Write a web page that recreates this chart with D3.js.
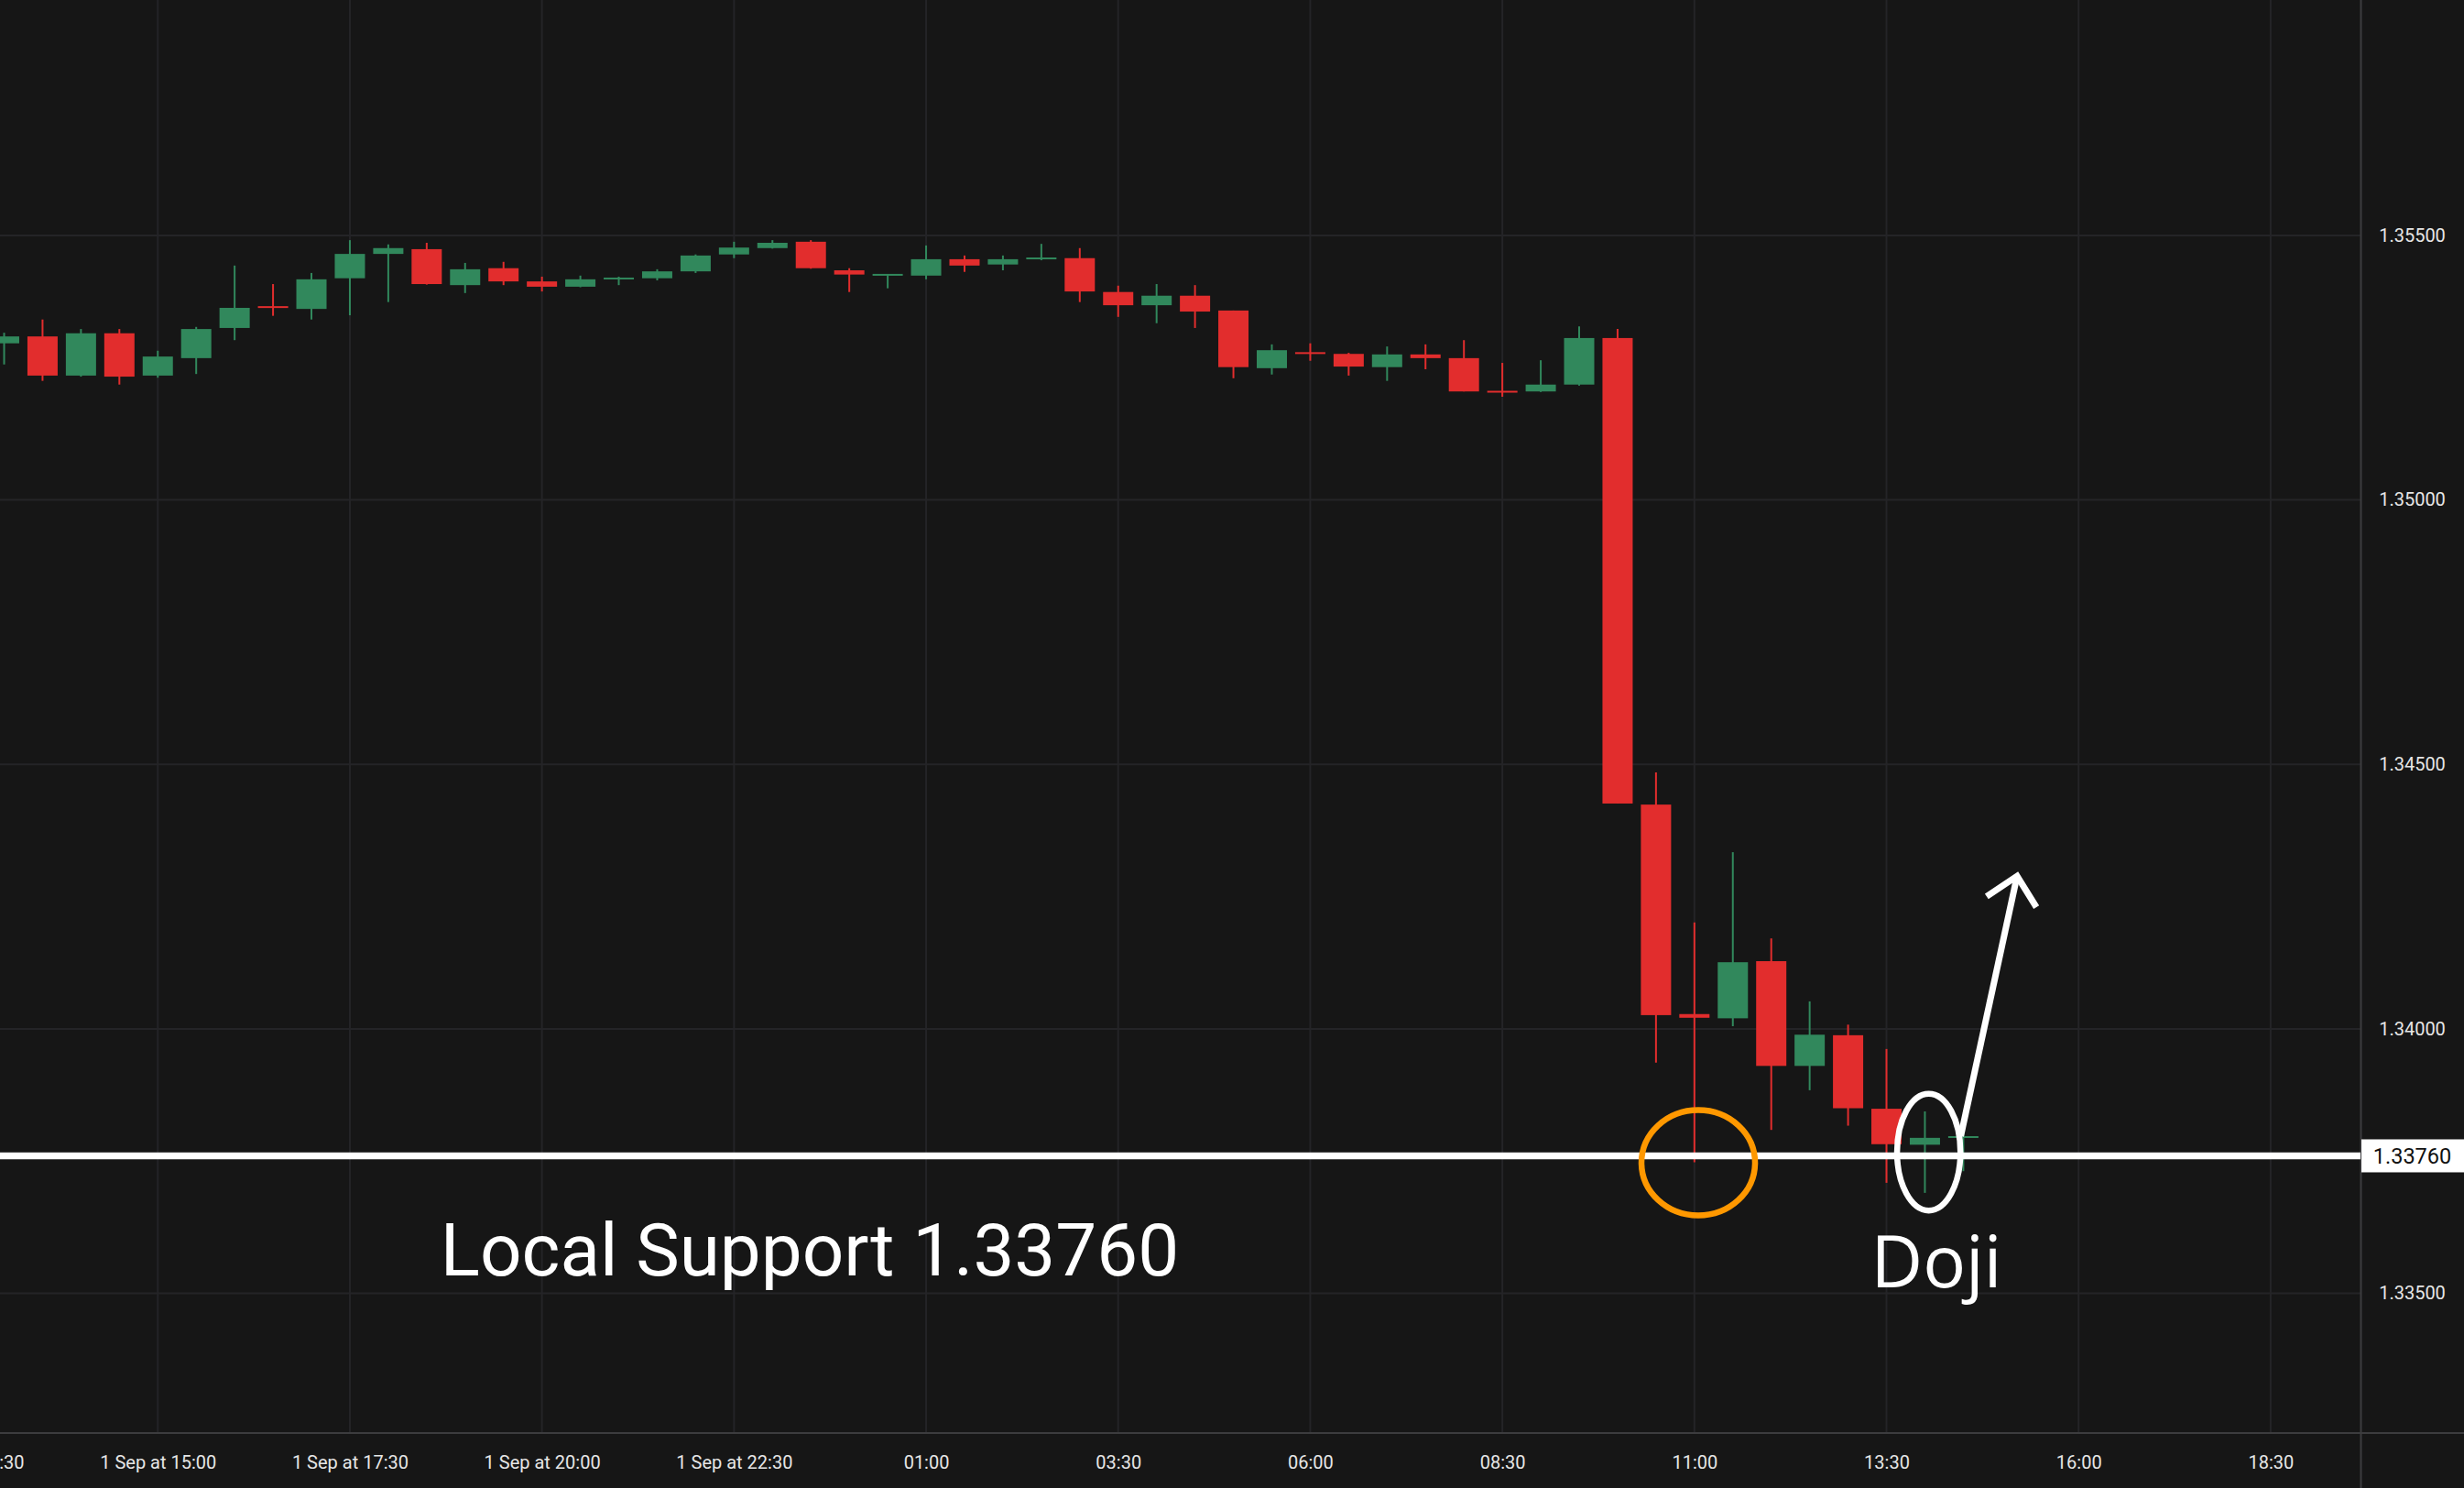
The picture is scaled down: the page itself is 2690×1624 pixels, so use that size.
<!DOCTYPE html>
<html>
<head>
<meta charset="utf-8">
<script src="https://cdn.jsdelivr.net/npm/d3@7"></script>
<style>
  html, body { margin: 0; padding: 0; background: #161616; }
  svg { display: block; }
</style>
</head>
<body>
<svg id="chart" width="2690" height="1624"></svg>
<script>
// ---------------- DATA ----------------
const times = [
  "2025-09-01 13:00","2025-09-01 13:30","2025-09-01 14:00","2025-09-01 14:30",
  "2025-09-01 15:00","2025-09-01 15:30","2025-09-01 16:00","2025-09-01 16:30",
  "2025-09-01 17:00","2025-09-01 17:30","2025-09-01 18:00","2025-09-01 18:30",
  "2025-09-01 19:00","2025-09-01 19:30","2025-09-01 20:00","2025-09-01 20:30",
  "2025-09-01 21:00","2025-09-01 21:30","2025-09-01 22:00","2025-09-01 22:30",
  "2025-09-01 23:00","2025-09-01 23:30","2025-09-02 00:00","2025-09-02 00:30",
  "2025-09-02 01:00","2025-09-02 01:30","2025-09-02 02:00","2025-09-02 02:30",
  "2025-09-02 03:00","2025-09-02 03:30","2025-09-02 04:00","2025-09-02 04:30",
  "2025-09-02 05:00","2025-09-02 05:30","2025-09-02 06:00","2025-09-02 06:30",
  "2025-09-02 07:00","2025-09-02 07:30","2025-09-02 08:00","2025-09-02 08:30",
  "2025-09-02 09:00","2025-09-02 09:30","2025-09-02 10:00","2025-09-02 10:30",
  "2025-09-02 11:00","2025-09-02 11:30","2025-09-02 12:00","2025-09-02 12:30",
  "2025-09-02 13:00","2025-09-02 13:30","2025-09-02 14:00","2025-09-02 14:30"
];
const opens = [
  1.35296,1.35309,1.35235,1.35315,1.35235,1.35268,1.35325,1.35365,
  1.35361,1.35419,1.35465,1.35474,1.35406,1.35438,1.35413,1.35403,
  1.35418,1.35419,1.35432,1.35464,1.35476,1.35488,1.35434,1.35425,
  1.35424,1.35455,1.35445,1.35456,1.35457,1.35393,1.35368,1.35386,
  1.35358,1.35249,1.35278,1.35276,1.35251,1.35275,1.35268,1.35205,
  1.35205,1.35218,1.35306,1.34424,1.34028,1.34020,1.34128,1.33930,
  1.33988,1.33849,1.33781,1.33795
];
const highs = [
  1.35316,1.35341,1.35323,1.35323,1.35282,1.35327,1.35443,1.35408,
  1.35429,1.35491,1.35483,1.35486,1.35448,1.35450,1.35422,1.35424,
  1.35422,1.35436,1.35464,1.35488,1.35491,1.35491,1.35438,1.35427,
  1.35481,1.35462,1.35462,1.35484,1.35476,1.35405,1.35408,1.35406,
  1.35358,1.35294,1.35296,1.35278,1.35290,1.35294,1.35302,1.35259,
  1.35264,1.35328,1.35323,1.34485,1.34201,1.34334,1.34171,1.34052,
  1.34008,1.33962,1.33844,1.33830
];
const lows = [
  1.35256,1.35225,1.35233,1.35218,1.35231,1.35238,1.35302,1.35348,
  1.35341,1.35349,1.35374,1.35407,1.35391,1.35406,1.35394,1.35402,
  1.35406,1.35415,1.35429,1.35457,1.35475,1.35437,1.35393,1.35400,
  1.35417,1.35431,1.35434,1.35453,1.35374,1.35346,1.35334,1.35325,
  1.35230,1.35237,1.35263,1.35235,1.35225,1.35247,1.35205,1.35195,
  1.35204,1.35216,1.34426,1.33936,1.33748,1.34005,1.33809,1.33884,
  1.33817,1.33709,1.33690,1.33731
];
const closes = [
  1.35309,1.35235,1.35315,1.35233,1.35271,1.35323,1.35363,1.35364,
  1.35417,1.35465,1.35476,1.35408,1.35436,1.35413,1.35403,1.35417,
  1.35419,1.35432,1.35462,1.35477,1.35486,1.35438,1.35426,1.35426,
  1.35455,1.35443,1.35455,1.35457,1.35394,1.35368,1.35386,1.35356,
  1.35251,1.35283,1.35277,1.35252,1.35275,1.35268,1.35205,1.35204,
  1.35218,1.35306,1.34426,1.34026,1.34021,1.34126,1.33930,1.33989,
  1.33850,1.33782,1.33794,1.33796
];
const xTickTimes = [
  "2025-09-01 12:30","2025-09-01 15:00","2025-09-01 17:30","2025-09-01 20:00",
  "2025-09-01 22:30","2025-09-02 01:00","2025-09-02 03:30","2025-09-02 06:00",
  "2025-09-02 08:30","2025-09-02 11:00","2025-09-02 13:30","2025-09-02 16:00",
  "2025-09-02 18:30"
];
const xTickLabels = [
  "1 Sep at 12:30","1 Sep at 15:00","1 Sep at 17:30","1 Sep at 20:00",
  "1 Sep at 22:30","01:00","03:30","06:00","08:30","11:00","13:30","16:00","18:30"
];
const yTickValues = [1.335, 1.340, 1.345, 1.350, 1.355];
const yTickLabels = ["1.33500","1.34000","1.34500","1.35000","1.35500"];
const supportLevel = 1.3376;
const supportLabel = "1.33760";
const supportText = "Local Support 1.33760";
const dojiText = "Doji";

// annotation anchors (time, price)
const orangeRing = { time: "2025-09-02 11:03", price: 1.33747 };
const dojiRing = { time: "2025-09-02 14:03", price: 1.33767 };
const arrowFrom = { time: "2025-09-02 14:28", price: 1.33797 };
const arrowTo = { time: "2025-09-02 15:12", price: 1.34289 };

// ---------------- LAYOUT ----------------
const W = 2690, H = 1624;
const plotR = 2577, plotB = 1564;
const parse = d3.timeParse("%Y-%m-%d %H:%M");
const GREEN = "#31885c", RED = "#e22d2d";
const GRID = "#242427", BORDER = "#3c3c3e";

const candles = times.map((t, i) => ({
  t: parse(t), o: opens[i], h: highs[i], l: lows[i], c: closes[i]
}));

const x = d3.scaleTime()
  .domain([parse("2025-09-01 13:00"), parse("2025-09-02 14:30")])
  .range([4.5, 2143.4]);
const y = d3.scaleLinear().domain([1.33236, 1.35945]).range([plotB, 0]);

const svg = d3.select("#chart");
svg.append("rect").attr("width", W).attr("height", H).attr("fill", "#161616");

svg.append("defs").append("clipPath").attr("id", "plotclip")
  .append("rect").attr("x", 0).attr("y", 0).attr("width", plotR).attr("height", plotB);

// grid
const grid = svg.append("g");
grid.selectAll("line.v").data(xTickTimes).join("line")
  .attr("x1", d => x(parse(d))).attr("x2", d => x(parse(d)))
  .attr("y1", 0).attr("y2", plotB)
  .attr("stroke", GRID).attr("stroke-width", 2);
grid.selectAll("line.h").data(yTickValues).join("line")
  .attr("x1", 0).attr("x2", plotR)
  .attr("y1", d => y(d)).attr("y2", d => y(d))
  .attr("stroke", GRID).attr("stroke-width", 2);

// candles
const cg = svg.append("g").attr("clip-path", "url(#plotclip)");
const bodyW = 33;
const cs = cg.selectAll("g.c").data(candles).join("g");
cs.append("line")
  .attr("x1", d => x(d.t)).attr("x2", d => x(d.t))
  .attr("y1", d => y(d.h)).attr("y2", d => y(d.l))
  .attr("stroke", d => d.c >= d.o ? GREEN : RED).attr("stroke-width", 2);
cs.append("rect")
  .attr("x", d => x(d.t) - bodyW / 2)
  .attr("width", bodyW)
  .attr("y", d => {
    const top = y(Math.max(d.o, d.c)), bot = y(Math.min(d.o, d.c));
    return bot - top < 2 ? (top + bot) / 2 - 1 : top;
  })
  .attr("height", d => Math.max(2, y(Math.min(d.o, d.c)) - y(Math.max(d.o, d.c))))
  .attr("fill", d => d.c >= d.o ? GREEN : RED);

// borders
svg.append("line").attr("x1", 0).attr("x2", W).attr("y1", plotB).attr("y2", plotB)
  .attr("stroke", BORDER).attr("stroke-width", 2);
svg.append("line").attr("x1", plotR + 0.5).attr("x2", plotR + 0.5).attr("y1", 0).attr("y2", H)
  .attr("stroke", BORDER).attr("stroke-width", 2);

// x axis
const xAxis = d3.axisBottom(x)
  .tickValues(xTickTimes.map(parse))
  .tickFormat((d, i) => xTickLabels[i])
  .tickSize(0).tickPadding(0);
const xg = svg.append("g").attr("transform", `translate(0, ${plotB + 25})`).call(xAxis);
xg.select(".domain").remove();
xg.selectAll("text").attr("fill", "#e6e6e6").attr("font-family", "Roboto")
  .attr("font-size", 20).attr("dy", "0.71em");

// y axis
const yAxis = d3.axisRight(y)
  .tickValues(yTickValues)
  .tickFormat((d, i) => yTickLabels[i])
  .tickSize(0).tickPadding(0);
const yg = svg.append("g").attr("transform", `translate(${2633.5}, 0)`).call(yAxis);
yg.select(".domain").remove();
yg.selectAll("text").attr("fill", "#e6e6e6").attr("font-family", "Roboto")
  .attr("font-size", 20).attr("text-anchor", "middle").attr("x", 0);

// support line
svg.append("line")
  .attr("x1", 0).attr("x2", plotR)
  .attr("y1", y(supportLevel)).attr("y2", y(supportLevel))
  .attr("stroke", "#ffffff").attr("stroke-width", 7.5);
svg.append("rect")
  .attr("x", plotR + 1).attr("y", y(supportLevel) - 18)
  .attr("width", W - plotR - 1).attr("height", 36).attr("fill", "#ffffff");
svg.append("text")
  .attr("x", 2633.5).attr("y", y(supportLevel)).attr("dy", "0.36em")
  .attr("text-anchor", "middle").attr("font-family", "Roboto").attr("font-size", 23.5)
  .attr("fill", "#111").text(supportLabel);

// annotations
svg.append("ellipse")
  .attr("cx", x(parse(orangeRing.time))).attr("cy", y(orangeRing.price))
  .attr("rx", 62).attr("ry", 57.5)
  .attr("fill", "none").attr("stroke", "#ff9800").attr("stroke-width", 6.5);
svg.append("ellipse")
  .attr("cx", x(parse(dojiRing.time))).attr("cy", y(dojiRing.price))
  .attr("rx", 34.6).attr("ry", 63.7)
  .attr("fill", "none").attr("stroke", "#ffffff").attr("stroke-width", 6.5);

const ax1 = x(parse(arrowFrom.time)), ay1 = y(arrowFrom.price);
const ax2 = x(parse(arrowTo.time)), ay2 = y(arrowTo.price);
const ang = Math.atan2(ay1 - ay2, ax1 - ax2);
const headLen = 40, headAng = 44 * Math.PI / 180;
const hl = [ax2 + headLen * Math.cos(ang + headAng), ay2 + headLen * Math.sin(ang + headAng)];
const hr = [ax2 + headLen * Math.cos(ang - headAng), ay2 + headLen * Math.sin(ang - headAng)];
svg.append("line").attr("x1", ax1).attr("y1", ay1).attr("x2", ax2).attr("y2", ay2)
  .attr("stroke", "#fff").attr("stroke-width", 7);
svg.append("path")
  .attr("d", d3.line()([hl, [ax2, ay2], hr]))
  .attr("fill", "none").attr("stroke", "#fff").attr("stroke-width", 7)
  .attr("stroke-linejoin", "miter");

svg.append("text")
  .attr("x", 884).attr("y", 1391.7).attr("text-anchor", "middle")
  .attr("font-family", "Roboto").attr("font-size", 80).attr("fill", "#fff")
  .text(supportText);
svg.append("text")
  .attr("x", 2114).attr("y", 1405).attr("text-anchor", "middle")
  .attr("font-family", "Open Sans").attr("font-size", 78).attr("fill", "#fff")
  .text(dojiText);
</script>
</body>
</html>
